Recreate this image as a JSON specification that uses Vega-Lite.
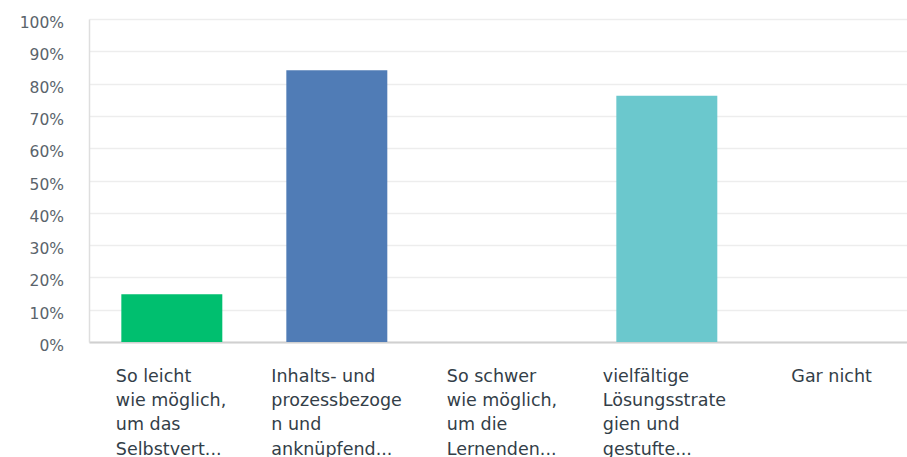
{
  "$schema": "https://vega.github.io/schema/vega-lite/v6.json",
  "width": 818,
  "height": 323,
  "autosize": "none",
  "padding": {"left": 89, "top": 19, "right": 0, "bottom": 115},
  "background": "white",
  "data": {
    "values": [
      {"Antwort": "So leicht\nwie möglich,\num das\nSelbstvert...", "Anteil": 0.148},
      {"Antwort": "Inhalts- und\nprozessbezoge\nn und\nanknüpfend...", "Anteil": 0.841},
      {"Antwort": "So schwer\nwie möglich,\num die\nLernenden...", "Anteil": 0},
      {"Antwort": "vielfältige\nLösungsstrate\ngien und\ngestufte...", "Anteil": 0.762},
      {"Antwort": "Gar nicht", "Anteil": 0}
    ]
  },
  "mark": {"type": "bar"},
  "encoding": {
    "x": {
      "field": "Antwort",
      "type": "nominal",
      "sort": null,
      "scale": {"paddingInner": 0.388, "paddingOuter": 0.1728, "align": 0.567},
      "axis": {
        "title": null,
        "labelAngle": 0,
        "ticks": false,
        "domainColor": "#d0d0d0",
        "domainWidth": 2,
        "labelExpr": "split(datum.label, '\\n')",
        "labelAlign": "left",
        "labelBaseline": "top",
        "labelPadding": 25,
        "labelLineHeight": 24.4,
        "labelFont": "DejaVu Sans",
        "labelFontSize": 17.5,
        "labelColor": "#333e48",
        "labelLimit": 0,
        "labelOverlap": false,
        "labelOffset": {
          "condition": [
            {"test": "indexof(datum.value,'So leicht')===0", "value": -56},
            {"test": "indexof(datum.value,'Inhalts')===0", "value": -65.5},
            {"test": "indexof(datum.value,'So schwer')===0", "value": -55},
            {"test": "indexof(datum.value,'vielf')===0", "value": -64}
          ],
          "value": -40.5
        }
      }
    },
    "y": {
      "field": "Anteil",
      "type": "quantitative",
      "scale": {"domain": [0, 1], "nice": false},
      "axis": {
        "title": null,
        "values": [0, 0.1, 0.2, 0.3, 0.4, 0.5, 0.6, 0.7, 0.8, 0.9, 1],
        "format": ".0%",
        "ticks": false,
        "domainColor": "#dedede",
        "domainWidth": 1.5,
        "gridColor": "#ededed",
        "gridWidth": 1.5,
        "labelPadding": 25.5,
        "labelFont": "DejaVu Sans",
        "labelFontSize": 15.5,
        "labelColor": "#5a636b",
        "labelBaseline": "middle",
        "labelOffset": 3.5
      }
    },
    "color": {
      "field": "Antwort",
      "type": "nominal",
      "sort": null,
      "legend": null,
      "scale": {"range": ["#00bf6f", "#507cb6", "#f9be00", "#6bc8cd", "#ff8b4f"]}
    }
  },
  "config": {"view": {"stroke": null}}
}
